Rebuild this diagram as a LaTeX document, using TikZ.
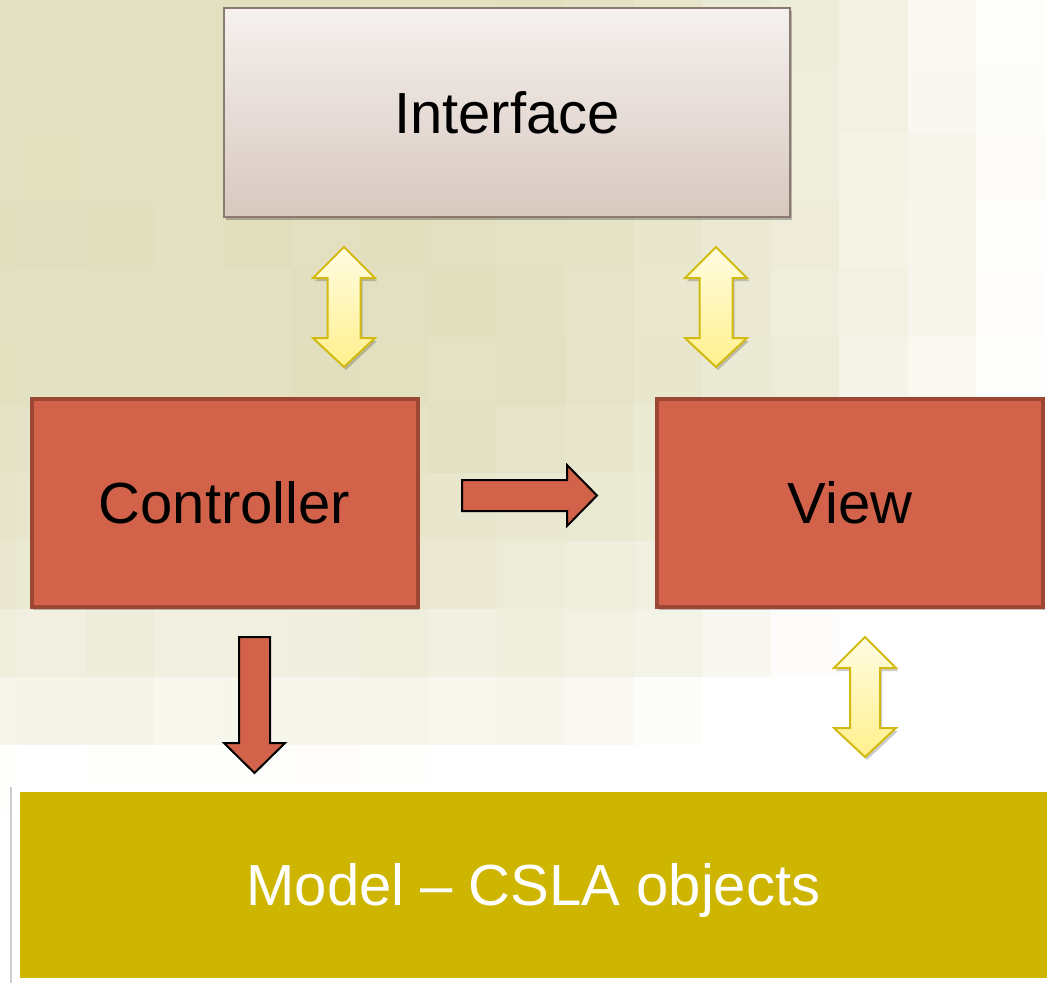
\documentclass[tikz,border=0pt]{standalone}
\usepackage{fontspec}
\setmainfont{Liberation Sans}
\usetikzlibrary{shadows}
\definecolor{bgbase}{RGB}{224,222,188}
\definecolor{redfill}{RGB}{210,99,74}
\definecolor{redline}{RGB}{158,70,52}
\definecolor{ifctop}{RGB}{245,241,239}
\definecolor{ifcbot}{RGB}{216,200,191}
\definecolor{ifcline}{RGB}{138,122,112}
\definecolor{modelfill}{RGB}{205,181,0}
\definecolor{ytop}{RGB}{255,252,226}
\definecolor{ybot}{RGB}{255,240,140}
\definecolor{yline}{RGB}{210,186,16}
\tikzset{
  shad/.style={drop shadow={shadow xshift=1.5pt, shadow yshift=-3pt, opacity=0.25, fill=black}},
  boxtext/.style={inner sep=0pt, font=\fontsize{58}{60}\selectfont, text height=41.5pt, text depth=0pt},
  ifcbox/.style={rectangle, draw=ifcline, line width=2pt, top color=ifctop, bottom color=ifcbot, shad,
    minimum width=566pt, minimum height=209pt, boxtext},
  redbox/.style={rectangle, draw=redline, line width=4pt, fill=redfill, shad,
    minimum width=386pt, minimum height=208pt, boxtext},
  modelbox/.style={rectangle, fill=modelfill, text=white, minimum width=1027pt, minimum height=186pt,
    boxtext},
  yarrow/.style={draw=yline, line width=2pt, top color=ytop, bottom color=ybot, line join=miter,
    drop shadow={shadow xshift=2pt, shadow yshift=-3pt, opacity=0.2, fill=black}},
  rarrow/.style={draw=black, line width=2pt, fill=redfill, line join=miter},
}
\newcommand\dblarrow[7]{%
  \path[yarrow] (#1,#2) -- (#1+#4,#6) -- (#1+#5,#6) -- (#1+#5,#7) -- (#1+#4,#7) -- (#1,#3)
    -- (#1-#4,#7) -- (#1-#5,#7) -- (#1-#5,#6) -- (#1-#4,#6) -- cycle;}
\begin{document}
\begin{tikzpicture}[x=1pt,y=-1pt]
\useasboundingbox (0,0) rectangle (1047,983);
% background
\fill[white] (0,0) rectangle (1047,983);
\pgfmathsetseed{11}
\foreach \i in {-1,...,15}{
  \foreach \j in {0,...,14}{
    \pgfmathsetmacro\cx{17+68.5*\i+34}
    \pgfmathsetmacro\cy{-3+68*\j+34}
    \pgfmathsetmacro\fx{max(0,(\cx-380)/620)}
    \pgfmathsetmacro\fy{max(0,(\cy-300)/480)}
    \pgfmathsetmacro\tt{min(100,max(0,100*(0.05+0.85*\fx*\fx+0.9*\fy*\fy+0.05*rand)))}
    \fill[white!\tt!bgbase] (17+68.5*\i,-3+68*\j) rectangle ++(68.7,68.2);
  }
}
% boxes
\node[ifcbox] (ifc) at (507,112.5) {Interface};
\node[redbox] (ctl) at (224.5,502.5) {Controller};
\node[redbox] (view) at (850,503) {View};
\fill[black!20] (10,787) rectangle (1047,983);
\fill[white] (12,785) rectangle (1047,983);
\node[modelbox] (model) at (533.5,885) {Model -- CSLA objects};
% yellow double arrows
\dblarrow{344}{247}{367}{31}{16.5}{278}{338}
\dblarrow{716}{247}{367}{31}{16.5}{278}{338}
\dblarrow{865}{637}{757}{31}{15}{668}{728}
% red arrows
\path[rarrow] (462,480) -- (567,480) -- (567,465) -- (597,495.5) -- (567,526) -- (567,511) -- (462,511) -- cycle;
\path[rarrow] (239,637) -- (270,637) -- (270,743) -- (285,743) -- (254.5,773) -- (224,743) -- (239,743) -- cycle;
\end{tikzpicture}
\end{document}
